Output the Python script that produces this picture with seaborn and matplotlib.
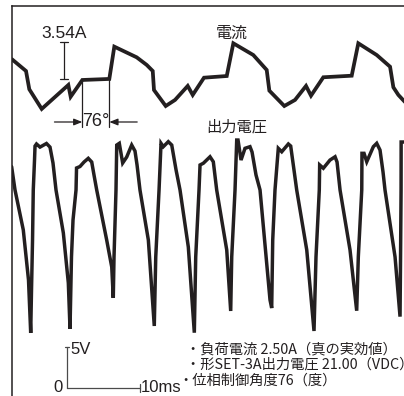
import numpy as np
import pandas as pd
import matplotlib
matplotlib.use("Agg")
import matplotlib.pyplot as plt
import seaborn as sns

sns.set_style("white")
plt.rcParams['font.family'] = ['Liberation Sans', 'Noto Sans CJK JP', 'DejaVu Sans']
JP = ['Noto Sans CJK JP', 'DejaVu Sans']

INK = '#231f20'

# output voltage trace: time (ms), volts
volt_t = [-0.05, 0.41, 1.54, 2.25, 2.55, 2.66, 2.80, 2.90, 3.07, 3.14,
          3.34, 3.82, 4.70, 5.18, 5.59, 6.00, 7.00, 7.68, 7.91, 8.11, 8.32, 8.73, 8.80,
          9.27, 9.82, 10.40, 10.87, 11.18, 11.55, 12.91, 13.60, 13.81, 13.91, 14.18, 14.28,
          14.63, 15.09, 15.64, 16.32, 16.77, 17.05, 17.45, 18.59, 19.40, 19.60, 20.05, 20.32,
          20.63, 21.31, 21.78, 22.37, 22.91, 24.04, 24.86, 25.05, 25.50, 25.64,
          26.09, 27.00, 27.45, 27.91, 29.28, 29.82, 29.96, 30.41, 30.64,
          30.82, 31.23, 31.77, 32.45, 32.73, 33.27, 33.82, 35.18, 35.41, 35.55, 35.86, 36.31,
          36.78, 37.68, 38.00, 38.45, 38.82, 40.19, 41.18, 41.45, 41.90, 41.95,
          42.45, 43.36, 44.05, 44.32, 44.73, 46.09, 47.00, 47.22, 47.69, 47.72,
          48.00, 48.37, 49.27, 49.73, 50.18, 50.59, 50.86, 52.23, 52.91, 52.98, 53.05, 53.06,
          53.45, 54.0]
volt_v = [26.99, 24.15, 19.27, 13.17, 6.71, 11.95, 18.05, 24.15, 27.80, 29.51,
          29.76, 29.38, 29.82, 29.38, 27.44, 24.15, 18.91, 12.81, 7.20, 15.98, 20.49, 24.15, 26.83,
          27.01, 27.56, 28.01, 27.56, 25.98, 24.15, 18.05, 14.75, 10.98, 15.98, 24.15, 29.63,
          29.84, 27.44, 28.17, 29.63, 28.90, 27.20, 24.15, 18.05, 7.56, 15.98, 24.15, 29.84,
          29.43, 30.04, 29.63, 26.59, 24.15, 17.20, 6.74, 15.98, 24.15, 27.20,
          27.41, 28.20, 27.59, 24.15, 16.83, 9.39, 15.98, 24.15, 30.24,
          30.24, 27.80, 29.23, 29.43, 28.78, 25.98, 24.15, 10.74, 9.75, 18.05, 24.15, 29.23,
          28.81, 29.76, 29.51, 26.59, 24.15, 16.83, 6.95, 15.98, 24.15, 27.20,
          26.80, 27.80, 28.20, 27.56, 24.15, 16.83, 9.42, 15.98, 24.15, 28.62,
          28.62, 27.59, 29.43, 29.84, 29.02, 26.34, 24.15, 15.98, 8.70, 15.98, 24.15, 30.00,
          30.00, 29.9]

# current trace: time (ms), amps
curr_t = [0.0, 1.91, 2.36, 4.05, 7.68, 8.00, 9.59, 13.27, 13.95, 17.0, 18.37, 19.19,
          19.36, 20.96, 22.23, 23.96, 24.64, 26.18, 29.28, 30.18, 32.9, 34.73,
          35.09, 37.13, 38.59, 40.09, 40.77, 42.45, 46.32, 47.22, 49.73, 51.55,
          52.0, 52.68, 53.45, 53.8]
curr_i = [4.85, 3.73, 1.98, 0.10, 2.39, 1.27, 2.87, 2.97, 6.06, 5.04, 4.31, 3.73,
          1.91, 0.38, 0.96, 2.30, 1.44, 3.09, 3.25, 6.38, 5.26, 3.83,
          1.85, 0.38, 0.96, 2.30, 1.37, 3.13, 3.28, 6.38, 5.26, 4.14,
          2.17, 1.44, 0.86, 0.6]

# scale marks
current_bar = (2.97, 6.51)      # 3.54 A
current_bar_t = 7.09
phase_t = (9.59, 13.27)         # 76 deg
time_bar = (7.46, 17.46)        # 10 ms
volt_bar = (0, 5)               # 5 V

notes = ['・負荷電流 2.50A（真の実効値）',
         '・形SET-3A出力電圧 21.00（VDC）',
         '・位相制御角度76（度）']

W, H = 404, 396
fig = plt.figure(figsize=(W / 100, H / 100), dpi=100)
ax = fig.add_axes([12 / W, 0, 392 / W, 390 / H])
ax2 = ax.twinx()

volt = pd.DataFrame({'t': volt_t, 'v': volt_v})
curr = pd.DataFrame({'t': curr_t, 'i': curr_i})

sns.lineplot(data=volt, x='t', y='v', ax=ax, sort=False, estimator=None,
             color=INK, linewidth=2.5)
sns.lineplot(data=curr, x='t', y='i', ax=ax2, sort=False, estimator=None,
             color=INK, linewidth=2.7)
for ln in ax.lines + ax2.lines:
    ln.set_solid_joinstyle('miter')

ax.set_xlim(0, 53.45)
ax.set_ylim(-0.98, 46.59)
ax2.set_ylim(-27.37, 9.95)

for a in (ax, ax2):
    a.set_xlabel('')
    a.set_ylabel('')
    a.set_xticks([])
    a.set_yticks([])
    for s in a.spines.values():
        s.set_visible(False)
ax.spines['left'].set_visible(True)
ax.spines['top'].set_visible(True)
for s in ('left', 'top'):
    ax.spines[s].set_color(INK)
    ax.spines[s].set_linewidth(1.1)

# 3.54A bar
ax2.plot([current_bar_t] * 2, current_bar, color=INK, lw=0.9)
for yv in current_bar:
    ax2.plot([current_bar_t - 0.55, current_bar_t + 0.55], [yv, yv], color=INK, lw=0.9)

# 76 deg marks
for tt in phase_t:
    ax2.plot([tt, tt], [2.87, -1.63], color=INK, lw=0.9)
arrow = dict(arrowstyle='-|>,head_length=0.5,head_width=0.2', color=INK, lw=0.9,
             shrinkA=0, shrinkB=0)
ax2.annotate('', xy=(phase_t[0], -1.15), xytext=(phase_t[0] - 3.8, -1.15), arrowprops=arrow)
ax2.annotate('', xy=(phase_t[1], -1.15), xytext=(phase_t[1] + 3.8, -1.15), arrowprops=arrow)

# scale bar (5V / 10ms)
SC = '#4a4a4a'
ax.plot([time_bar[0]] * 2, volt_bar, color=SC, lw=0.9)
ax.plot(time_bar, [0, 0], color=SC, lw=0.9)
ax.plot([time_bar[0] - 0.25, time_bar[0] + 0.3], [volt_bar[1]] * 2, color=SC, lw=0.9)
ax.plot([time_bar[1]] * 2, [-0.5, 0.5], color=SC, lw=0.9)


def px(x, y):
    return x / W, 1 - y / H


fig.text(*px(64, 33), '3.54A', fontsize=12.5, ha='center', va='center', color=INK)
fig.text(*px(96, 121), '76°', fontsize=13, ha='center', va='center', color=INK)
fig.text(*px(232, 33), '電流', family=JP, fontsize=11.5, ha='center', va='center', color=INK)
fig.text(*px(237, 127), '出力電圧', family=JP, fontsize=11, ha='center', va='center', color=INK)
fig.text(*px(70, 349), '5V', fontsize=12, ha='left', va='center', color=INK)
fig.text(*px(63, 388), '0', fontsize=12, ha='right', va='center', color=INK)
fig.text(*px(141, 388), '10ms', fontsize=12, ha='left', va='center', color=INK)
for (xx, yy), s in zip([(186, 349), (186, 365), (178, 381)], notes):
    fig.text(*px(xx, yy), s, family=JP, fontsize=10.3, ha='left', va='center', color=INK)

fig.savefig('out.png', dpi=100)
